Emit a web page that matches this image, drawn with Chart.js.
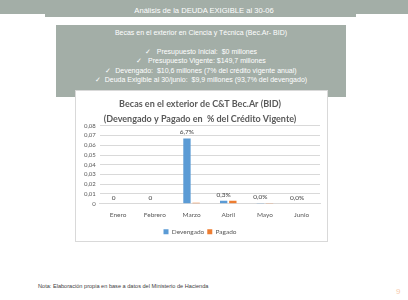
<!DOCTYPE html>
<html>
<head>
<meta charset="utf-8">
<script src="https://cdn.jsdelivr.net/npm/chart.js@4"></script>
<style>
    body { margin: 0; width: 408px; height: 300px; background: #ffffff; position: relative; overflow: hidden; font-family: 'Liberation Sans', Arial, sans-serif; }
    .band { position: absolute; background: #a3aea7; }
    .head-text { position: absolute; left: 0; width: 408px; top: 6px; text-align: center; color: #ffffff; font-size: 7.6px; }
    .info { position: absolute; left: 56px; top: 25px; width: 290px; height: 72px; background: #a3aea7; color: #ffffff; font-size: 7px; text-align: center; }
    .info div { position: absolute; left: 0; width: 290px; }
    .chart-box { position: absolute; left: 75px; top: 90px; width: 251px; height: 150px; background: #ffffff; border: 1px solid #d9d9d9; }
    .note { position: absolute; left: 38px; top: 283px; font-size: 5.6px; color: #404040; }
    .page { position: absolute; left: 396px; top: 287px; font-size: 8px; color: #f8cbad; }
</style>
</head>
<body>
<div class="band" style="left:0;top:0;width:408px;height:14px"></div>
<div class="band" style="left:45px;top:0;width:311px;height:17px"></div>
<div class="head-text">Análisis de la DEUDA EXIGIBLE al 30-06</div>

<div class="info">
    <div style="top:4px">Becas en el exterior en Ciencia y Técnica (Bec.Ar- BID)</div>
    <div style="top:23px">✓&nbsp;&nbsp; Presupuesto Inicial:&nbsp; $0 millones</div>
    <div style="top:32px">✓&nbsp;&nbsp; Presupuesto Vigente: $149,7 millones</div>
    <div style="top:42px">✓&nbsp; Devengado:&nbsp; $10,6 millones (7% del crédito vigente anual)</div>
    <div style="top:51px">✓&nbsp; Deuda Exigible al 30/junio:&nbsp; $9,9 millones (93,7% del devengado)</div>
</div>

<div class="chart-box"><canvas id="becasChart" width="251" height="150"></canvas></div>

<div class="note">Nota: Elaboración propia en base a datos del Ministerio de Hacienda</div>
<div class="page">9</div>

<script>
const months = ['Enero', 'Febrero', 'Marzo', 'Abril', 'Mayo', 'Junio'];
const devengado = [0, 0, 0.067, 0.003, 0.0003, 0];
const pagado = [0, 0, 0.001, 0.003, 0.0003, 0];
const devengadoLabels = ['0', '0', '6,7%', '0,3%', '0,0%', '0,0%'];
const titleLines = ['Becas en el exterior de C&T Bec.Ar (BID)', '(Devengado y Pagado en  % del Crédito Vigente)'];

const textColor = '#595959';
const chartFont = 'Lato, Calibri, sans-serif';

// labels above the Devengado bars
const barLabels = {
    id: 'barLabels',
    afterDatasetsDraw(chart) {
        const ctx = chart.ctx;
        const meta = chart.getDatasetMeta(0);
        ctx.save();
        ctx.font = '6.5px ' + chartFont;
        ctx.fillStyle = '#404040';
        ctx.textAlign = 'center';
        ctx.textBaseline = 'bottom';
        meta.data.forEach((bar, i) => {
            ctx.fillText(devengadoLabels[i], bar.x, bar.y - 3);
        });
        ctx.restore();
    }
};

new Chart(document.getElementById('becasChart'), {
    type: 'bar',
    data: {
        labels: months,
        datasets: [
            { label: 'Devengado', data: devengado, backgroundColor: '#5b9bd5' },
            { label: 'Pagado', data: pagado, backgroundColor: '#ed7d31' }
        ]
    },
    options: {
        responsive: false,
        animation: false,
        devicePixelRatio: 1,
        datasets: { bar: { categoryPercentage: 0.5, barPercentage: 0.8 } },
        layout: { padding: { left: 4, right: 7, top: 6, bottom: -4 } },
        plugins: {
            title: {
                display: true,
                text: titleLines,
                color: textColor,
                font: { family: chartFont, size: 9, weight: 'bold', lineHeight: 1.6 },
                padding: { top: 0, bottom: 0 }
            },
            legend: {
                position: 'bottom',
                labels: { boxWidth: 5, boxHeight: 5, color: textColor, font: { family: chartFont, size: 6.5 }, padding: 3 }
            },
            tooltip: { enabled: false }
        },
        scales: {
            y: {
                min: 0,
                max: 0.08,
                ticks: {
                    stepSize: 0.01,
                    autoSkip: false,
                    color: textColor,
                    font: { family: chartFont, size: 6 },
                    padding: 4,
                    callback: v => v === 0 ? '0' : v.toFixed(2).replace('.', ',')
                },
                grid: { color: '#d9d9d9', drawTicks: false },
                border: { display: false }
            },
            x: {
                ticks: { color: textColor, font: { family: chartFont, size: 6.5 }, padding: 7 },
                grid: { display: false, drawTicks: false },
                border: { color: '#d9d9d9' }
            }
        }
    },
    plugins: [barLabels]
});
</script>
</body>
</html>
